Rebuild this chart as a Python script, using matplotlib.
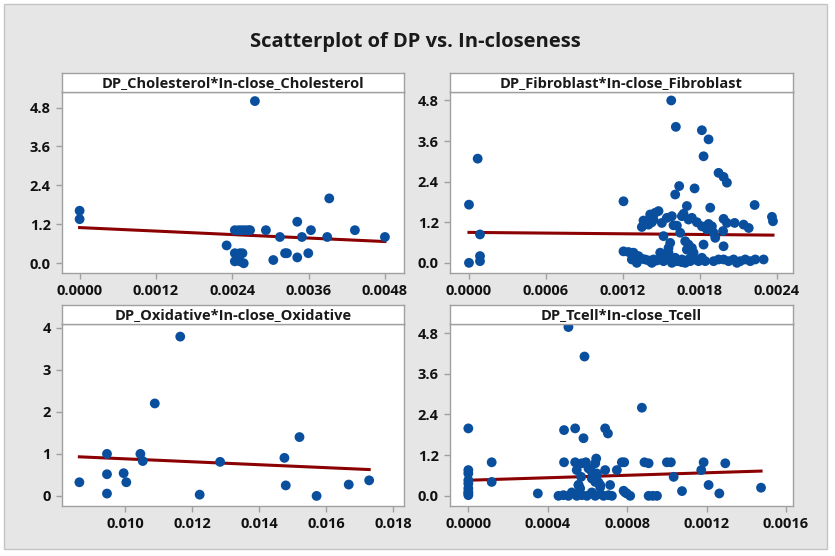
import matplotlib
matplotlib.use('Agg')
import matplotlib.pyplot as plt
from matplotlib.patches import Rectangle
from matplotlib.ticker import FormatStrFormatter
import numpy as np

plt.rcParams['font.family'] = ['Open Sans', 'DejaVu Sans']

# --- data ---
chol_x = [0.0, 0.0, 0.002756, 0.003925, 0.003422, 0.004328, 0.003637, 0.002929,
          0.00244, 0.00250, 0.00255, 0.00260, 0.00265, 0.00268,
          0.003149, 0.003495, 0.003893, 0.0048, 0.002311, 0.00323, 0.00326,
          0.003595, 0.003422, 0.003045,
          0.00244, 0.00252, 0.00244, 0.00248, 0.00252, 0.00258, 0.00256, 0.00248]
chol_y = [1.62, 1.36, 5.0, 2.0, 1.28, 1.02, 1.02, 1.02,
          1.02, 1.02, 1.02, 1.02, 1.02, 1.02,
          0.81, 0.81, 0.81, 0.81, 0.55, 0.31, 0.31,
          0.31, 0.18, 0.10,
          0.31, 0.31, 0.06, 0.12, 0.06, 0.0, 0.31, 0.2]
chol_fit = (1.10, -89.6)  # intercept, slope

fib_x = [0.0, 0.0, 0.0000676, 0.0000858, 0.0000858, 0.0000858,
         0.001204, 0.001576, 0.001612, 0.001815, 0.001867, 0.001828, 0.001945,
         0.001984, 0.00201, 0.001638, 0.001758, 0.001607, 0.002226, 0.00188,
         0.001698, 0.002361, 0.002369,
         0.001347, 0.001399, 0.001412, 0.001438, 0.001477, 0.001503, 0.001542,
         0.001581, 0.001594, 0.001516, 0.001659, 0.001711, 0.001737, 0.001646,
         0.001815, 0.001854, 0.001893, 0.001919, 0.001906, 0.001984, 0.00201,
         0.00207, 0.00214, 0.00218, 0.001828, 0.001984, 0.00198,
         0.001685, 0.001711, 0.001737, 0.001698, 0.001568, 0.001555, 0.00175,
         0.001204, 0.001243, 0.001282, 0.001321, 0.001347, 0.001308, 0.001373,
         0.001399, 0.001438, 0.001464, 0.001498, 0.001516, 0.001542, 0.001568,
         0.001581, 0.001607, 0.001633, 0.001659, 0.001685, 0.001711, 0.001737,
         0.001763, 0.001789, 0.001815, 0.001841, 0.001906, 0.001945, 0.001984,
         0.002023, 0.002062, 0.002088, 0.002114, 0.002153, 0.002192, 0.002231,
         0.002296, 0.001490, 0.001555, 0.001269, 0.001425,
         0.001360, 0.001425, 0.001451, 0.001620, 0.001672, 0.001776, 0.001867,
         0.001620, 0.001659, 0.001724]
fib_y = [1.72, 0.0, 3.08, 0.84, 0.2, 0.05,
         1.82, 4.8, 4.02, 3.92, 3.65, 3.15, 2.66,
         2.54, 2.37, 2.27, 2.2, 2.02, 1.71, 1.63,
         1.68, 1.36, 1.23,
         1.06, 1.13, 1.43, 1.28, 1.53, 1.18, 1.33,
         1.38, 1.11, 0.79, 1.38, 1.28, 1.33, 0.89,
         1.08, 0.99, 1.08, 0.74, 0.89, 1.30, 1.18,
         1.18, 1.13, 1.03, 0.54, 0.49, 0.94,
         0.64, 0.54, 0.44, 0.39, 0.59, 0.44, 0.30,
         0.34, 0.32, 0.30, 0.2, 0.12, 0.0, 0.1,
         0.07, 0.1, 0.07, 0.15, 0.05, 0.2, 0.1,
         0.0, 0.15, 0.05, 0.1, 0.0, 0.1, 0.2,
         0.1, 0.05, 0.15, 0.05, 0.05, 0.1, 0.1,
         0.05, 0.1, 0.0, 0.05, 0.1, 0.05, 0.1,
         0.1, 0.3, 0.3, 0.1, 0.0,
         1.25, 1.20, 1.48, 1.10, 1.45, 1.20, 1.15,
         0.05, 0.02, 0.05]
fib_fit = (0.90, -34.0)

oxi_x = [0.008629, 0.009453, 0.009453, 0.009453, 0.00995, 0.01003, 0.01045,
         0.01052, 0.01088, 0.01164, 0.01222, 0.01283, 0.01475, 0.01479,
         0.0152, 0.01571, 0.01667, 0.01728]
oxi_y = [0.325, 1.0, 0.516, 0.056, 0.54, 0.325, 1.0,
         0.83, 2.2, 3.79, 0.03, 0.81, 0.905, 0.25,
         1.40, 0.0, 0.27, 0.37]
oxi_fit = (1.232, -35.0)

tcell_x = [0.0, 0.0, 0.0, 0.0, 0.0, 0.0, 0.0, 0.0, 0.0,
           0.0001176, 0.0001176, 0.00035, 0.000504, 0.000585, 0.000874,
           0.000482, 0.000538, 0.00058, 0.000689, 0.000703,
           0.000482, 0.000538, 0.000546, 0.000571, 0.000592, 0.000568, 0.000555,
           0.000605, 0.000622, 0.000644, 0.000639, 0.000647, 0.000689, 0.000639,
           0.000664, 0.000748, 0.000773, 0.000785, 0.000714, 0.000782, 0.000798,
           0.000887, 0.000908, 0.001, 0.00102, 0.001034, 0.001076, 0.001173,
           0.001185, 0.00121, 0.001264, 0.001294, 0.001474,
           0.000454, 0.000479, 0.000504, 0.000521, 0.000546, 0.000571, 0.000597,
           0.000622, 0.000639, 0.000664, 0.000681, 0.000706, 0.000723,
           0.000790, 0.000815, 0.000908, 0.000929, 0.000950,
           0.000555, 0.000563, 0.000622, 0.000647, 0.000655, 0.000664]
tcell_y = [1.99, 0.76, 0.66, 0.46, 0.36, 0.22, 0.12, 0.02, 0.07,
           0.99, 0.41, 0.07, 4.98, 4.11, 2.6,
           1.94, 1.99, 1.7, 1.99, 1.84,
           0.99, 0.99, 0.76, 0.96, 0.99, 0.56, 0.32,
           0.81, 0.71, 1.1, 0.96, 0.66, 0.76, 0.41,
           0.32, 0.76, 0.99, 0.99, 0.32, 0.15, 0.07,
           0.99, 0.96, 0.99, 0.99, 0.56, 0.14, 0.76,
           0.99, 0.32, 0.07, 0.96, 0.24,
           0.0, 0.02, 0.0, 0.1, 0.0, 0.02, 0.0,
           0.1, 0.0, 0.05, 0.0, 0.02, 0.0,
           0.1, 0.0, 0.0, 0.0, 0.0,
           0.32, 0.22, 0.51, 0.61, 0.40, 0.25]
tcell_fit = (0.46, 183.6)

titles = ['DP_Cholesterol*In-close_Cholesterol', 'DP_Fibroblast*In-close_Fibroblast',
          'DP_Oxidative*In-close_Oxidative', 'DP_Tcell*In-close_Tcell']

W, H = 835, 556
fig = plt.figure(figsize=(W / 100, H / 100), dpi=100, facecolor='white')

# light gray frame behind everything
fig.patches.append(Rectangle((4 / W, 1 - 549 / H), 823 / W, 545 / H,
                             transform=fig.transFigure, facecolor='#e6e6e6',
                             edgecolor='#c4c4c4', linewidth=1, zorder=-10))

fig.text(0.497, 1 - 42 / H, 'Scatterplot of DP vs. In-closeness',
         ha='center', va='center', fontsize=14.5, fontweight='bold', color='#1a1a1a')

DOT = '#0a4f9e'
FIT = '#8b0000'
EDGE = '#a0a0a0'

panels = [
    dict(x=chol_x, y=chol_y, fit=chol_fit, title=titles[0],
         box=(62, 92, 404, 273), head=73,
         xlim=(-0.000277, 0.0051), ylim=(-0.30, 5.28),
         xticks=np.arange(0, 0.00481, 0.0012), yticks=np.arange(0, 4.81, 1.2),
         xfmt='%.4f', yfmt='%.1f'),
    dict(x=fib_x, y=fib_y, fit=fib_fit, title=titles[1],
         box=(450, 92, 793, 273), head=73,
         xlim=(-0.000148, 0.002525), ylim=(-0.30, 5.05),
         xticks=np.arange(0, 0.00241, 0.0006), yticks=np.arange(0, 4.81, 1.2),
         xfmt='%.4f', yfmt='%.1f'),
    dict(x=oxi_x, y=oxi_y, fit=oxi_fit, title=titles[2],
         box=(62, 324, 404, 506), head=305,
         xlim=(0.00811, 0.01832), ylim=(-0.24, 4.09),
         xticks=np.arange(0.010, 0.01801, 0.002), yticks=np.arange(0, 4.1, 1),
         xfmt='%.3f', yfmt='%d'),
    dict(x=tcell_x, y=tcell_y, fit=tcell_fit, title=titles[3],
         box=(450, 324, 793, 506), head=305,
         xlim=(-0.0000923, 0.001635), ylim=(-0.30, 5.07),
         xticks=np.arange(0, 0.00161, 0.0004), yticks=np.arange(0, 4.81, 1.2),
         xfmt='%.4f', yfmt='%.1f'),
]

for p in panels:
    l, t, r, b = p['box']
    ax = fig.add_axes([l / W, 1 - b / H, (r - l) / W, (b - t) / H])
    ax.set_facecolor('white')
    x = np.array(p['x'])
    y = np.array(p['y'])
    ax.scatter(x, y, s=50, color=DOT, edgecolors='none', zorder=3)
    a, k = p['fit']
    xs = np.array([x.min(), x.max()])
    ax.plot(xs, a + k * xs, color=FIT, lw=2.2, zorder=2)
    ax.set_xlim(*p['xlim'])
    ax.set_ylim(*p['ylim'])
    ax.set_xticks(p['xticks'])
    ax.set_yticks(p['yticks'])
    ax.xaxis.set_major_formatter(FormatStrFormatter(p['xfmt']))
    ax.yaxis.set_major_formatter(FormatStrFormatter(p['yfmt']))
    ax.tick_params(direction='out', length=4, width=1, color=EDGE,
                   labelsize=10.5, pad=4, labelcolor='#111111')
    for lab in ax.get_xticklabels() + ax.get_yticklabels():
        lab.set_fontweight('bold')
    for s in ax.spines.values():
        s.set_color(EDGE)
        s.set_linewidth(1)

    # header strip with panel title
    hx = fig.add_axes([l / W, 1 - t / H, (r - l) / W, (t - p['head']) / H])
    hx.set_facecolor('white')
    hx.set_xticks([])
    hx.set_yticks([])
    for s in hx.spines.values():
        s.set_color(EDGE)
        s.set_linewidth(1)
    hx.text(0.5, 0.45, p['title'], ha='center', va='center', fontsize=10.5,
            fontweight='bold', color='#1a1a1a', transform=hx.transAxes)

fig.savefig('out.png', dpi=100, facecolor='white')
